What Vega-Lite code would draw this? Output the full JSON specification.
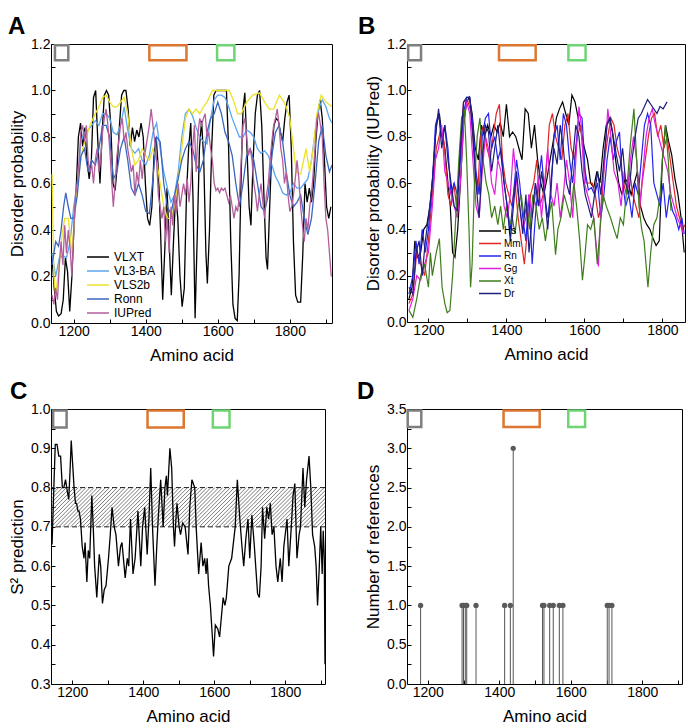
{
"$schema": "https://vega.github.io/schema/vega-lite/v6.json",
"padding": {"left": 7, "top": 14, "right": 2, "bottom": 2},
"config": {
  "font": "Liberation Sans",
  "view": {"stroke": "#000", "strokeWidth": 1},
  "axis": {"grid": false, "domain": false, "tickColor": "#000", "tickSize": -4, "labelPadding": 5, "labelOverlap": false, "labelFontSize": 14, "labelColor": "#000", "titleFontSize": 17, "titleFontWeight": "normal", "titleColor": "#000", "titlePadding": 4},
  "axisX": {"titlePadding": 9},
  "title": {"fontSize": 24, "fontWeight": "bold", "anchor": "start", "frame": "group", "baseline": "alphabetic", "offset": -2, "color": "#000"},
  "legend": {"title": null, "symbolStrokeWidth": 1.5, "padding": 0, "labelColor": "#000"}
},
"columns": 2,
"spacing": {"row": 86, "column": 75},
"bounds": "flush",
"resolve": {"scale": {"x": "independent", "y": "independent", "color": "independent", "stroke": "independent"}},
"datasets": {
"boxA": [{"b":"g","x0":1148,"x1":1185,"y0":1.13,"y1":1.195},{"b":"o","x0":1410,"x1":1513,"y0":1.13,"y1":1.195},{"b":"n","x0":1598,"x1":1646,"y0":1.13,"y1":1.195}],
"boxB": [{"b":"g","x0":1148,"x1":1181,"y0":1.13,"y1":1.195},{"b":"o","x0":1381,"x1":1475,"y0":1.13,"y1":1.195},{"b":"n","x0":1559,"x1":1603,"y0":1.13,"y1":1.195}],
"boxC": [{"b":"g","x0":1146,"x1":1184,"y0":0.953,"y1":0.996},{"b":"o","x0":1412,"x1":1514,"y0":0.953,"y1":0.996},{"b":"n","x0":1596,"x1":1643,"y0":0.953,"y1":0.996}],
"boxD": [{"b":"g","x0":1144,"x1":1182,"y0":3.27,"y1":3.48},{"b":"o","x0":1412,"x1":1513,"y0":3.27,"y1":3.48},{"b":"n","x0":1593,"x1":1640,"y0":3.27,"y1":3.48}],
"a": [
{"s":"VLXT","x":1140,"y":0.28},{"s":"VLXT","x":1146,"y":0.15},{"s":"VLXT","x":1152,"y":0.05},{"s":"VLXT","x":1158,"y":0.03},{"s":"VLXT","x":1165,"y":0.04},{"s":"VLXT","x":1171,"y":0.1},{"s":"VLXT","x":1177,"y":0.28},{"s":"VLXT","x":1183,"y":0.22},{"s":"VLXT","x":1189,"y":0.05},{"s":"VLXT","x":1195,"y":0.2},{"s":"VLXT","x":1201,"y":0.42},{"s":"VLXT","x":1207,"y":0.58},{"s":"VLXT","x":1213,"y":0.8},{"s":"VLXT","x":1219,"y":0.86},{"s":"VLXT","x":1225,"y":0.76},{"s":"VLXT","x":1231,"y":0.84},{"s":"VLXT","x":1237,"y":0.7},{"s":"VLXT","x":1243,"y":0.62},{"s":"VLXT","x":1249,"y":0.7},{"s":"VLXT","x":1255,"y":0.97},{"s":"VLXT","x":1261,"y":1.0},{"s":"VLXT","x":1267,"y":0.78},{"s":"VLXT","x":1273,"y":0.6},{"s":"VLXT","x":1279,"y":0.82},{"s":"VLXT","x":1285,"y":0.98},{"s":"VLXT","x":1291,"y":1.0},{"s":"VLXT","x":1297,"y":0.98},{"s":"VLXT","x":1303,"y":0.85},{"s":"VLXT","x":1309,"y":0.6},{"s":"VLXT","x":1315,"y":0.57},{"s":"VLXT","x":1321,"y":0.68},{"s":"VLXT","x":1327,"y":0.85},{"s":"VLXT","x":1333,"y":0.98},{"s":"VLXT","x":1339,"y":1.0},{"s":"VLXT","x":1345,"y":1.0},{"s":"VLXT","x":1351,"y":0.92},{"s":"VLXT","x":1357,"y":0.76},{"s":"VLXT","x":1363,"y":0.84},{"s":"VLXT","x":1369,"y":0.78},{"s":"VLXT","x":1375,"y":0.83},{"s":"VLXT","x":1381,"y":0.8},{"s":"VLXT","x":1387,"y":0.86},{"s":"VLXT","x":1393,"y":0.8},{"s":"VLXT","x":1399,"y":0.6},{"s":"VLXT","x":1405,"y":0.45},{"s":"VLXT","x":1411,"y":0.42},{"s":"VLXT","x":1417,"y":0.5},{"s":"VLXT","x":1423,"y":0.72},{"s":"VLXT","x":1429,"y":0.8},{"s":"VLXT","x":1435,"y":0.66},{"s":"VLXT","x":1441,"y":0.4},{"s":"VLXT","x":1447,"y":0.1},{"s":"VLXT","x":1453,"y":0.32},{"s":"VLXT","x":1459,"y":0.58},{"s":"VLXT","x":1465,"y":0.35},{"s":"VLXT","x":1471,"y":0.12},{"s":"VLXT","x":1477,"y":0.35},{"s":"VLXT","x":1483,"y":0.55},{"s":"VLXT","x":1489,"y":0.45},{"s":"VLXT","x":1495,"y":0.2},{"s":"VLXT","x":1501,"y":0.07},{"s":"VLXT","x":1507,"y":0.15},{"s":"VLXT","x":1513,"y":0.55},{"s":"VLXT","x":1519,"y":0.75},{"s":"VLXT","x":1525,"y":0.86},{"s":"VLXT","x":1531,"y":0.55},{"s":"VLXT","x":1537,"y":0.02},{"s":"VLXT","x":1543,"y":0.38},{"s":"VLXT","x":1549,"y":0.75},{"s":"VLXT","x":1555,"y":0.87},{"s":"VLXT","x":1561,"y":0.7},{"s":"VLXT","x":1567,"y":0.3},{"s":"VLXT","x":1571,"y":0.17},{"s":"VLXT","x":1577,"y":0.4},{"s":"VLXT","x":1583,"y":0.75},{"s":"VLXT","x":1589,"y":0.98},{"s":"VLXT","x":1595,"y":1.0},{"s":"VLXT","x":1605,"y":1.0},{"s":"VLXT","x":1615,"y":1.0},{"s":"VLXT","x":1624,"y":1.0},{"s":"VLXT","x":1630,"y":0.75},{"s":"VLXT","x":1636,"y":0.35},{"s":"VLXT","x":1642,"y":0.08},{"s":"VLXT","x":1648,"y":0.02},{"s":"VLXT","x":1654,"y":0.01},{"s":"VLXT","x":1659,"y":0.2},{"s":"VLXT","x":1665,"y":0.65},{"s":"VLXT","x":1670,"y":0.92},{"s":"VLXT","x":1675,"y":0.99},{"s":"VLXT","x":1681,"y":0.75},{"s":"VLXT","x":1687,"y":0.5},{"s":"VLXT","x":1692,"y":0.42},{"s":"VLXT","x":1698,"y":0.7},{"s":"VLXT","x":1704,"y":0.9},{"s":"VLXT","x":1710,"y":0.98},{"s":"VLXT","x":1716,"y":1.0},{"s":"VLXT","x":1722,"y":0.85},{"s":"VLXT","x":1728,"y":0.55},{"s":"VLXT","x":1734,"y":0.28},{"s":"VLXT","x":1738,"y":0.23},{"s":"VLXT","x":1744,"y":0.5},{"s":"VLXT","x":1750,"y":0.75},{"s":"VLXT","x":1756,"y":0.85},{"s":"VLXT","x":1762,"y":0.88},{"s":"VLXT","x":1768,"y":0.87},{"s":"VLXT","x":1774,"y":0.82},{"s":"VLXT","x":1780,"y":0.78},{"s":"VLXT","x":1786,"y":0.88},{"s":"VLXT","x":1792,"y":0.95},{"s":"VLXT","x":1798,"y":0.98},{"s":"VLXT","x":1804,"y":0.75},{"s":"VLXT","x":1810,"y":0.35},{"s":"VLXT","x":1816,"y":0.12},{"s":"VLXT","x":1822,"y":0.09},{"s":"VLXT","x":1830,"y":0.09},{"s":"VLXT","x":1836,"y":0.3},{"s":"VLXT","x":1842,"y":0.6},{"s":"VLXT","x":1848,"y":0.52},{"s":"VLXT","x":1854,"y":0.58},{"s":"VLXT","x":1860,"y":0.52},{"s":"VLXT","x":1866,"y":0.6},{"s":"VLXT","x":1872,"y":0.78},{"s":"VLXT","x":1878,"y":0.9},{"s":"VLXT","x":1884,"y":0.96},{"s":"VLXT","x":1890,"y":0.88},{"s":"VLXT","x":1896,"y":0.7},{"s":"VLXT","x":1902,"y":0.5},{"s":"VLXT","x":1908,"y":0.45},{"s":"VLXT","x":1914,"y":0.5},
{"s":"VL3-BA","x":1140,"y":0.3},{"s":"VL3-BA","x":1150,"y":0.2},{"s":"VL3-BA","x":1160,"y":0.28},{"s":"VL3-BA","x":1170,"y":0.29},{"s":"VL3-BA","x":1180,"y":0.28},{"s":"VL3-BA","x":1190,"y":0.35},{"s":"VL3-BA","x":1200,"y":0.5},{"s":"VL3-BA","x":1210,"y":0.6},{"s":"VL3-BA","x":1220,"y":0.78},{"s":"VL3-BA","x":1230,"y":0.82},{"s":"VL3-BA","x":1240,"y":0.83},{"s":"VL3-BA","x":1250,"y":0.85},{"s":"VL3-BA","x":1260,"y":0.87},{"s":"VL3-BA","x":1270,"y":0.85},{"s":"VL3-BA","x":1280,"y":0.9},{"s":"VL3-BA","x":1290,"y":0.9},{"s":"VL3-BA","x":1300,"y":0.88},{"s":"VL3-BA","x":1310,"y":0.82},{"s":"VL3-BA","x":1320,"y":0.81},{"s":"VL3-BA","x":1330,"y":0.85},{"s":"VL3-BA","x":1340,"y":0.93},{"s":"VL3-BA","x":1350,"y":0.83},{"s":"VL3-BA","x":1360,"y":0.75},{"s":"VL3-BA","x":1370,"y":0.73},{"s":"VL3-BA","x":1380,"y":0.75},{"s":"VL3-BA","x":1390,"y":0.7},{"s":"VL3-BA","x":1400,"y":0.68},{"s":"VL3-BA","x":1410,"y":0.72},{"s":"VL3-BA","x":1420,"y":0.82},{"s":"VL3-BA","x":1430,"y":0.86},{"s":"VL3-BA","x":1440,"y":0.75},{"s":"VL3-BA","x":1450,"y":0.65},{"s":"VL3-BA","x":1460,"y":0.58},{"s":"VL3-BA","x":1470,"y":0.52},{"s":"VL3-BA","x":1480,"y":0.55},{"s":"VL3-BA","x":1490,"y":0.65},{"s":"VL3-BA","x":1500,"y":0.8},{"s":"VL3-BA","x":1510,"y":0.9},{"s":"VL3-BA","x":1520,"y":0.92},{"s":"VL3-BA","x":1530,"y":0.89},{"s":"VL3-BA","x":1540,"y":0.84},{"s":"VL3-BA","x":1550,"y":0.8},{"s":"VL3-BA","x":1560,"y":0.78},{"s":"VL3-BA","x":1570,"y":0.77},{"s":"VL3-BA","x":1580,"y":0.88},{"s":"VL3-BA","x":1590,"y":0.96},{"s":"VL3-BA","x":1600,"y":0.98},{"s":"VL3-BA","x":1610,"y":0.98},{"s":"VL3-BA","x":1620,"y":0.97},{"s":"VL3-BA","x":1630,"y":0.93},{"s":"VL3-BA","x":1640,"y":0.88},{"s":"VL3-BA","x":1650,"y":0.84},{"s":"VL3-BA","x":1660,"y":0.8},{"s":"VL3-BA","x":1670,"y":0.8},{"s":"VL3-BA","x":1680,"y":0.83},{"s":"VL3-BA","x":1690,"y":0.82},{"s":"VL3-BA","x":1700,"y":0.8},{"s":"VL3-BA","x":1710,"y":0.75},{"s":"VL3-BA","x":1720,"y":0.73},{"s":"VL3-BA","x":1730,"y":0.74},{"s":"VL3-BA","x":1740,"y":0.72},{"s":"VL3-BA","x":1750,"y":0.68},{"s":"VL3-BA","x":1760,"y":0.63},{"s":"VL3-BA","x":1770,"y":0.6},{"s":"VL3-BA","x":1780,"y":0.56},{"s":"VL3-BA","x":1790,"y":0.55},{"s":"VL3-BA","x":1800,"y":0.56},{"s":"VL3-BA","x":1810,"y":0.6},{"s":"VL3-BA","x":1820,"y":0.58},{"s":"VL3-BA","x":1830,"y":0.58},{"s":"VL3-BA","x":1840,"y":0.6},{"s":"VL3-BA","x":1850,"y":0.62},{"s":"VL3-BA","x":1860,"y":0.7},{"s":"VL3-BA","x":1870,"y":0.82},{"s":"VL3-BA","x":1880,"y":0.92},{"s":"VL3-BA","x":1890,"y":0.96},{"s":"VL3-BA","x":1900,"y":0.93},{"s":"VL3-BA","x":1910,"y":0.88},{"s":"VL3-BA","x":1917,"y":0.86},
{"s":"VLS2b","x":1140,"y":0.64},{"s":"VLS2b","x":1145,"y":0.2},{"s":"VLS2b","x":1150,"y":0.12},{"s":"VLS2b","x":1160,"y":0.25},{"s":"VLS2b","x":1168,"y":0.38},{"s":"VLS2b","x":1175,"y":0.45},{"s":"VLS2b","x":1185,"y":0.45},{"s":"VLS2b","x":1195,"y":0.3},{"s":"VLS2b","x":1205,"y":0.5},{"s":"VLS2b","x":1212,"y":0.62},{"s":"VLS2b","x":1225,"y":0.75},{"s":"VLS2b","x":1235,"y":0.8},{"s":"VLS2b","x":1245,"y":0.85},{"s":"VLS2b","x":1260,"y":0.9},{"s":"VLS2b","x":1270,"y":0.93},{"s":"VLS2b","x":1280,"y":0.97},{"s":"VLS2b","x":1290,"y":0.98},{"s":"VLS2b","x":1300,"y":0.95},{"s":"VLS2b","x":1310,"y":0.93},{"s":"VLS2b","x":1320,"y":0.93},{"s":"VLS2b","x":1330,"y":0.95},{"s":"VLS2b","x":1340,"y":0.97},{"s":"VLS2b","x":1350,"y":0.9},{"s":"VLS2b","x":1360,"y":0.75},{"s":"VLS2b","x":1370,"y":0.68},{"s":"VLS2b","x":1380,"y":0.7},{"s":"VLS2b","x":1390,"y":0.75},{"s":"VLS2b","x":1400,"y":0.72},{"s":"VLS2b","x":1410,"y":0.7},{"s":"VLS2b","x":1420,"y":0.75},{"s":"VLS2b","x":1430,"y":0.7},{"s":"VLS2b","x":1440,"y":0.6},{"s":"VLS2b","x":1450,"y":0.5},{"s":"VLS2b","x":1460,"y":0.45},{"s":"VLS2b","x":1470,"y":0.45},{"s":"VLS2b","x":1480,"y":0.5},{"s":"VLS2b","x":1490,"y":0.62},{"s":"VLS2b","x":1500,"y":0.75},{"s":"VLS2b","x":1510,"y":0.88},{"s":"VLS2b","x":1520,"y":0.92},{"s":"VLS2b","x":1530,"y":0.9},{"s":"VLS2b","x":1540,"y":0.92},{"s":"VLS2b","x":1550,"y":0.9},{"s":"VLS2b","x":1560,"y":0.93},{"s":"VLS2b","x":1570,"y":0.95},{"s":"VLS2b","x":1585,"y":1.0},{"s":"VLS2b","x":1632,"y":1.0},{"s":"VLS2b","x":1645,"y":0.95},{"s":"VLS2b","x":1655,"y":0.9},{"s":"VLS2b","x":1665,"y":0.9},{"s":"VLS2b","x":1680,"y":0.95},{"s":"VLS2b","x":1697,"y":0.98},{"s":"VLS2b","x":1716,"y":0.99},{"s":"VLS2b","x":1730,"y":0.95},{"s":"VLS2b","x":1743,"y":0.92},{"s":"VLS2b","x":1755,"y":0.92},{"s":"VLS2b","x":1771,"y":0.98},{"s":"VLS2b","x":1780,"y":0.96},{"s":"VLS2b","x":1790,"y":0.93},{"s":"VLS2b","x":1800,"y":0.88},{"s":"VLS2b","x":1810,"y":0.75},{"s":"VLS2b","x":1818,"y":0.65},{"s":"VLS2b","x":1830,"y":0.64},{"s":"VLS2b","x":1845,"y":0.75},{"s":"VLS2b","x":1855,"y":0.65},{"s":"VLS2b","x":1865,"y":0.75},{"s":"VLS2b","x":1875,"y":0.9},{"s":"VLS2b","x":1887,"y":0.98},{"s":"VLS2b","x":1900,"y":0.95},{"s":"VLS2b","x":1917,"y":0.93},
{"s":"Ronn","x":1140,"y":0.25},{"s":"Ronn","x":1150,"y":0.35},{"s":"Ronn","x":1158,"y":0.33},{"s":"Ronn","x":1165,"y":0.4},{"s":"Ronn","x":1172,"y":0.5},{"s":"Ronn","x":1178,"y":0.56},{"s":"Ronn","x":1185,"y":0.5},{"s":"Ronn","x":1192,"y":0.45},{"s":"Ronn","x":1200,"y":0.45},{"s":"Ronn","x":1210,"y":0.55},{"s":"Ronn","x":1220,"y":0.72},{"s":"Ronn","x":1230,"y":0.75},{"s":"Ronn","x":1240,"y":0.65},{"s":"Ronn","x":1250,"y":0.7},{"s":"Ronn","x":1260,"y":0.68},{"s":"Ronn","x":1270,"y":0.75},{"s":"Ronn","x":1280,"y":0.85},{"s":"Ronn","x":1290,"y":0.85},{"s":"Ronn","x":1300,"y":0.8},{"s":"Ronn","x":1310,"y":0.62},{"s":"Ronn","x":1320,"y":0.65},{"s":"Ronn","x":1330,"y":0.75},{"s":"Ronn","x":1340,"y":0.8},{"s":"Ronn","x":1350,"y":0.7},{"s":"Ronn","x":1360,"y":0.58},{"s":"Ronn","x":1370,"y":0.55},{"s":"Ronn","x":1380,"y":0.6},{"s":"Ronn","x":1390,"y":0.55},{"s":"Ronn","x":1400,"y":0.48},{"s":"Ronn","x":1410,"y":0.47},{"s":"Ronn","x":1420,"y":0.62},{"s":"Ronn","x":1430,"y":0.8},{"s":"Ronn","x":1440,"y":0.78},{"s":"Ronn","x":1450,"y":0.6},{"s":"Ronn","x":1460,"y":0.5},{"s":"Ronn","x":1470,"y":0.47},{"s":"Ronn","x":1480,"y":0.55},{"s":"Ronn","x":1490,"y":0.62},{"s":"Ronn","x":1500,"y":0.7},{"s":"Ronn","x":1510,"y":0.75},{"s":"Ronn","x":1520,"y":0.78},{"s":"Ronn","x":1530,"y":0.75},{"s":"Ronn","x":1540,"y":0.68},{"s":"Ronn","x":1550,"y":0.65},{"s":"Ronn","x":1560,"y":0.7},{"s":"Ronn","x":1570,"y":0.82},{"s":"Ronn","x":1580,"y":0.88},{"s":"Ronn","x":1590,"y":0.9},{"s":"Ronn","x":1600,"y":0.95},{"s":"Ronn","x":1610,"y":0.9},{"s":"Ronn","x":1620,"y":0.82},{"s":"Ronn","x":1630,"y":0.78},{"s":"Ronn","x":1640,"y":0.72},{"s":"Ronn","x":1650,"y":0.6},{"s":"Ronn","x":1660,"y":0.5},{"s":"Ronn","x":1670,"y":0.6},{"s":"Ronn","x":1680,"y":0.72},{"s":"Ronn","x":1690,"y":0.75},{"s":"Ronn","x":1700,"y":0.7},{"s":"Ronn","x":1710,"y":0.6},{"s":"Ronn","x":1720,"y":0.5},{"s":"Ronn","x":1730,"y":0.48},{"s":"Ronn","x":1740,"y":0.55},{"s":"Ronn","x":1750,"y":0.72},{"s":"Ronn","x":1760,"y":0.82},{"s":"Ronn","x":1770,"y":0.85},{"s":"Ronn","x":1780,"y":0.78},{"s":"Ronn","x":1790,"y":0.65},{"s":"Ronn","x":1800,"y":0.55},{"s":"Ronn","x":1810,"y":0.5},{"s":"Ronn","x":1820,"y":0.52},{"s":"Ronn","x":1830,"y":0.55},{"s":"Ronn","x":1840,"y":0.45},{"s":"Ronn","x":1850,"y":0.38},{"s":"Ronn","x":1860,"y":0.45},{"s":"Ronn","x":1870,"y":0.6},{"s":"Ronn","x":1880,"y":0.78},{"s":"Ronn","x":1890,"y":0.85},{"s":"Ronn","x":1900,"y":0.72},{"s":"Ronn","x":1910,"y":0.65},{"s":"Ronn","x":1917,"y":0.68},
{"s":"IUPred","x":1140,"y":0.12},{"s":"IUPred","x":1145,"y":0.08},{"s":"IUPred","x":1150,"y":0.15},{"s":"IUPred","x":1155,"y":0.1},{"s":"IUPred","x":1160,"y":0.25},{"s":"IUPred","x":1165,"y":0.35},{"s":"IUPred","x":1170,"y":0.25},{"s":"IUPred","x":1175,"y":0.42},{"s":"IUPred","x":1180,"y":0.3},{"s":"IUPred","x":1185,"y":0.4},{"s":"IUPred","x":1190,"y":0.32},{"s":"IUPred","x":1195,"y":0.2},{"s":"IUPred","x":1200,"y":0.4},{"s":"IUPred","x":1205,"y":0.55},{"s":"IUPred","x":1210,"y":0.6},{"s":"IUPred","x":1215,"y":0.7},{"s":"IUPred","x":1220,"y":0.82},{"s":"IUPred","x":1225,"y":0.85},{"s":"IUPred","x":1230,"y":0.78},{"s":"IUPred","x":1235,"y":0.85},{"s":"IUPred","x":1240,"y":0.7},{"s":"IUPred","x":1245,"y":0.65},{"s":"IUPred","x":1250,"y":0.68},{"s":"IUPred","x":1255,"y":0.6},{"s":"IUPred","x":1260,"y":0.7},{"s":"IUPred","x":1265,"y":0.75},{"s":"IUPred","x":1270,"y":0.65},{"s":"IUPred","x":1275,"y":0.7},{"s":"IUPred","x":1280,"y":0.82},{"s":"IUPred","x":1285,"y":0.88},{"s":"IUPred","x":1290,"y":0.92},{"s":"IUPred","x":1295,"y":0.85},{"s":"IUPred","x":1300,"y":0.75},{"s":"IUPred","x":1305,"y":0.62},{"s":"IUPred","x":1310,"y":0.5},{"s":"IUPred","x":1315,"y":0.6},{"s":"IUPred","x":1320,"y":0.72},{"s":"IUPred","x":1325,"y":0.78},{"s":"IUPred","x":1330,"y":0.85},{"s":"IUPred","x":1335,"y":0.88},{"s":"IUPred","x":1340,"y":0.78},{"s":"IUPred","x":1345,"y":0.82},{"s":"IUPred","x":1350,"y":0.75},{"s":"IUPred","x":1355,"y":0.7},{"s":"IUPred","x":1360,"y":0.65},{"s":"IUPred","x":1365,"y":0.68},{"s":"IUPred","x":1370,"y":0.55},{"s":"IUPred","x":1375,"y":0.65},{"s":"IUPred","x":1380,"y":0.6},{"s":"IUPred","x":1385,"y":0.7},{"s":"IUPred","x":1390,"y":0.62},{"s":"IUPred","x":1395,"y":0.7},{"s":"IUPred","x":1400,"y":0.75},{"s":"IUPred","x":1405,"y":0.8},{"s":"IUPred","x":1410,"y":0.85},{"s":"IUPred","x":1415,"y":0.92},{"s":"IUPred","x":1420,"y":0.85},{"s":"IUPred","x":1425,"y":0.78},{"s":"IUPred","x":1430,"y":0.7},{"s":"IUPred","x":1435,"y":0.55},{"s":"IUPred","x":1440,"y":0.5},{"s":"IUPred","x":1445,"y":0.45},{"s":"IUPred","x":1450,"y":0.5},{"s":"IUPred","x":1455,"y":0.35},{"s":"IUPred","x":1460,"y":0.45},{"s":"IUPred","x":1465,"y":0.3},{"s":"IUPred","x":1470,"y":0.5},{"s":"IUPred","x":1475,"y":0.42},{"s":"IUPred","x":1480,"y":0.55},{"s":"IUPred","x":1485,"y":0.48},{"s":"IUPred","x":1490,"y":0.6},{"s":"IUPred","x":1495,"y":0.5},{"s":"IUPred","x":1500,"y":0.55},{"s":"IUPred","x":1505,"y":0.6},{"s":"IUPred","x":1510,"y":0.55},{"s":"IUPred","x":1515,"y":0.62},{"s":"IUPred","x":1520,"y":0.52},{"s":"IUPred","x":1525,"y":0.6},{"s":"IUPred","x":1530,"y":0.75},{"s":"IUPred","x":1535,"y":0.85},{"s":"IUPred","x":1540,"y":0.65},{"s":"IUPred","x":1545,"y":0.82},{"s":"IUPred","x":1550,"y":0.88},{"s":"IUPred","x":1555,"y":0.85},{"s":"IUPred","x":1560,"y":0.88},{"s":"IUPred","x":1565,"y":0.9},{"s":"IUPred","x":1570,"y":0.8},{"s":"IUPred","x":1575,"y":0.82},{"s":"IUPred","x":1580,"y":0.75},{"s":"IUPred","x":1585,"y":0.7},{"s":"IUPred","x":1590,"y":0.6},{"s":"IUPred","x":1595,"y":0.57},{"s":"IUPred","x":1600,"y":0.58},{"s":"IUPred","x":1605,"y":0.56},{"s":"IUPred","x":1610,"y":0.58},{"s":"IUPred","x":1615,"y":0.57},{"s":"IUPred","x":1620,"y":0.58},{"s":"IUPred","x":1625,"y":0.55},{"s":"IUPred","x":1630,"y":0.52},{"s":"IUPred","x":1635,"y":0.55},{"s":"IUPred","x":1640,"y":0.5},{"s":"IUPred","x":1645,"y":0.45},{"s":"IUPred","x":1650,"y":0.5},{"s":"IUPred","x":1655,"y":0.48},{"s":"IUPred","x":1660,"y":0.55},{"s":"IUPred","x":1665,"y":0.7},{"s":"IUPred","x":1670,"y":0.85},{"s":"IUPred","x":1675,"y":0.88},{"s":"IUPred","x":1680,"y":0.8},{"s":"IUPred","x":1685,"y":0.72},{"s":"IUPred","x":1690,"y":0.75},{"s":"IUPred","x":1695,"y":0.7},{"s":"IUPred","x":1700,"y":0.6},{"s":"IUPred","x":1705,"y":0.55},{"s":"IUPred","x":1710,"y":0.48},{"s":"IUPred","x":1715,"y":0.55},{"s":"IUPred","x":1720,"y":0.6},{"s":"IUPred","x":1725,"y":0.52},{"s":"IUPred","x":1730,"y":0.45},{"s":"IUPred","x":1735,"y":0.55},{"s":"IUPred","x":1740,"y":0.6},{"s":"IUPred","x":1745,"y":0.7},{"s":"IUPred","x":1750,"y":0.78},{"s":"IUPred","x":1755,"y":0.85},{"s":"IUPred","x":1760,"y":0.88},{"s":"IUPred","x":1765,"y":0.92},{"s":"IUPred","x":1770,"y":0.85},{"s":"IUPred","x":1775,"y":0.75},{"s":"IUPred","x":1780,"y":0.7},{"s":"IUPred","x":1785,"y":0.6},{"s":"IUPred","x":1790,"y":0.65},{"s":"IUPred","x":1795,"y":0.55},{"s":"IUPred","x":1800,"y":0.48},{"s":"IUPred","x":1805,"y":0.5},{"s":"IUPred","x":1810,"y":0.55},{"s":"IUPred","x":1815,"y":0.62},{"s":"IUPred","x":1820,"y":0.7},{"s":"IUPred","x":1825,"y":0.62},{"s":"IUPred","x":1830,"y":0.5},{"s":"IUPred","x":1835,"y":0.42},{"s":"IUPred","x":1840,"y":0.35},{"s":"IUPred","x":1845,"y":0.45},{"s":"IUPred","x":1850,"y":0.4},{"s":"IUPred","x":1855,"y":0.5},{"s":"IUPred","x":1860,"y":0.55},{"s":"IUPred","x":1865,"y":0.65},{"s":"IUPred","x":1870,"y":0.75},{"s":"IUPred","x":1875,"y":0.88},{"s":"IUPred","x":1880,"y":0.9},{"s":"IUPred","x":1885,"y":0.85},{"s":"IUPred","x":1890,"y":0.8},{"s":"IUPred","x":1895,"y":0.6},{"s":"IUPred","x":1900,"y":0.45},{"s":"IUPred","x":1905,"y":0.4},{"s":"IUPred","x":1910,"y":0.3},{"s":"IUPred","x":1915,"y":0.2}
],
"b": [
{"s":"Hs","x":1150,"y":0.1},{"s":"Hs","x":1158,"y":0.15},{"s":"Hs","x":1165,"y":0.35},{"s":"Hs","x":1172,"y":0.28},{"s":"Hs","x":1180,"y":0.3},{"s":"Hs","x":1188,"y":0.4},{"s":"Hs","x":1196,"y":0.42},{"s":"Hs","x":1204,"y":0.5},{"s":"Hs","x":1212,"y":0.65},{"s":"Hs","x":1220,"y":0.85},{"s":"Hs","x":1228,"y":0.9},{"s":"Hs","x":1235,"y":0.8},{"s":"Hs","x":1242,"y":0.75},{"s":"Hs","x":1250,"y":0.6},{"s":"Hs","x":1256,"y":0.5},{"s":"Hs","x":1262,"y":0.3},{"s":"Hs","x":1268,"y":0.28},{"s":"Hs","x":1275,"y":0.4},{"s":"Hs","x":1282,"y":0.6},{"s":"Hs","x":1290,"y":0.85},{"s":"Hs","x":1298,"y":0.95},{"s":"Hs","x":1305,"y":0.97},{"s":"Hs","x":1312,"y":0.9},{"s":"Hs","x":1320,"y":0.75},{"s":"Hs","x":1328,"y":0.7},{"s":"Hs","x":1336,"y":0.85},{"s":"Hs","x":1344,"y":0.8},{"s":"Hs","x":1352,"y":0.85},{"s":"Hs","x":1360,"y":0.8},{"s":"Hs","x":1368,"y":0.85},{"s":"Hs","x":1376,"y":0.82},{"s":"Hs","x":1384,"y":0.86},{"s":"Hs","x":1392,"y":0.8},{"s":"Hs","x":1400,"y":0.94},{"s":"Hs","x":1408,"y":0.8},{"s":"Hs","x":1416,"y":0.82},{"s":"Hs","x":1424,"y":0.8},{"s":"Hs","x":1432,"y":0.75},{"s":"Hs","x":1440,"y":0.7},{"s":"Hs","x":1448,"y":0.92},{"s":"Hs","x":1456,"y":0.9},{"s":"Hs","x":1464,"y":0.75},{"s":"Hs","x":1472,"y":0.85},{"s":"Hs","x":1480,"y":0.7},{"s":"Hs","x":1488,"y":0.6},{"s":"Hs","x":1496,"y":0.55},{"s":"Hs","x":1504,"y":0.62},{"s":"Hs","x":1512,"y":0.7},{"s":"Hs","x":1520,"y":0.78},{"s":"Hs","x":1528,"y":0.88},{"s":"Hs","x":1536,"y":0.92},{"s":"Hs","x":1544,"y":0.95},{"s":"Hs","x":1552,"y":0.9},{"s":"Hs","x":1560,"y":0.85},{"s":"Hs","x":1568,"y":0.98},{"s":"Hs","x":1576,"y":0.95},{"s":"Hs","x":1584,"y":0.88},{"s":"Hs","x":1592,"y":0.82},{"s":"Hs","x":1600,"y":0.75},{"s":"Hs","x":1608,"y":0.7},{"s":"Hs","x":1616,"y":0.6},{"s":"Hs","x":1624,"y":0.58},{"s":"Hs","x":1632,"y":0.65},{"s":"Hs","x":1640,"y":0.6},{"s":"Hs","x":1648,"y":0.75},{"s":"Hs","x":1656,"y":0.85},{"s":"Hs","x":1664,"y":0.88},{"s":"Hs","x":1672,"y":0.82},{"s":"Hs","x":1680,"y":0.7},{"s":"Hs","x":1688,"y":0.6},{"s":"Hs","x":1696,"y":0.55},{"s":"Hs","x":1704,"y":0.62},{"s":"Hs","x":1712,"y":0.6},{"s":"Hs","x":1720,"y":0.55},{"s":"Hs","x":1728,"y":0.6},{"s":"Hs","x":1736,"y":0.65},{"s":"Hs","x":1744,"y":0.5},{"s":"Hs","x":1752,"y":0.45},{"s":"Hs","x":1760,"y":0.42},{"s":"Hs","x":1768,"y":0.4},{"s":"Hs","x":1776,"y":0.36},{"s":"Hs","x":1784,"y":0.33},{"s":"Hs","x":1792,"y":0.35},{"s":"Hs","x":1800,"y":0.7},{"s":"Hs","x":1808,"y":0.85},{"s":"Hs","x":1816,"y":0.78},{"s":"Hs","x":1824,"y":0.72},{"s":"Hs","x":1832,"y":0.62},{"s":"Hs","x":1840,"y":0.55},{"s":"Hs","x":1848,"y":0.45},{"s":"Hs","x":1856,"y":0.3},
{"s":"Mm","x":1150,"y":0.08},{"s":"Mm","x":1160,"y":0.12},{"s":"Mm","x":1170,"y":0.3},{"s":"Mm","x":1180,"y":0.25},{"s":"Mm","x":1190,"y":0.2},{"s":"Mm","x":1200,"y":0.35},{"s":"Mm","x":1210,"y":0.55},{"s":"Mm","x":1220,"y":0.75},{"s":"Mm","x":1230,"y":0.82},{"s":"Mm","x":1240,"y":0.78},{"s":"Mm","x":1250,"y":0.55},{"s":"Mm","x":1258,"y":0.5},{"s":"Mm","x":1265,"y":0.6},{"s":"Mm","x":1272,"y":0.5},{"s":"Mm","x":1280,"y":0.7},{"s":"Mm","x":1290,"y":0.95},{"s":"Mm","x":1300,"y":0.96},{"s":"Mm","x":1310,"y":0.9},{"s":"Mm","x":1318,"y":0.7},{"s":"Mm","x":1326,"y":0.55},{"s":"Mm","x":1334,"y":0.8},{"s":"Mm","x":1342,"y":0.85},{"s":"Mm","x":1350,"y":0.75},{"s":"Mm","x":1358,"y":0.7},{"s":"Mm","x":1366,"y":0.8},{"s":"Mm","x":1374,"y":0.9},{"s":"Mm","x":1382,"y":0.94},{"s":"Mm","x":1390,"y":0.7},{"s":"Mm","x":1398,"y":0.6},{"s":"Mm","x":1406,"y":0.55},{"s":"Mm","x":1414,"y":0.5},{"s":"Mm","x":1422,"y":0.6},{"s":"Mm","x":1430,"y":0.45},{"s":"Mm","x":1438,"y":0.35},{"s":"Mm","x":1446,"y":0.25},{"s":"Mm","x":1454,"y":0.4},{"s":"Mm","x":1462,"y":0.55},{"s":"Mm","x":1470,"y":0.6},{"s":"Mm","x":1478,"y":0.7},{"s":"Mm","x":1486,"y":0.5},{"s":"Mm","x":1494,"y":0.55},{"s":"Mm","x":1502,"y":0.65},{"s":"Mm","x":1510,"y":0.85},{"s":"Mm","x":1518,"y":0.9},{"s":"Mm","x":1526,"y":0.8},{"s":"Mm","x":1534,"y":0.75},{"s":"Mm","x":1542,"y":0.7},{"s":"Mm","x":1550,"y":0.85},{"s":"Mm","x":1558,"y":0.9},{"s":"Mm","x":1566,"y":0.75},{"s":"Mm","x":1574,"y":0.7},{"s":"Mm","x":1582,"y":0.8},{"s":"Mm","x":1590,"y":0.85},{"s":"Mm","x":1598,"y":0.7},{"s":"Mm","x":1604,"y":0.6},{"s":"Mm","x":1612,"y":0.6},{"s":"Mm","x":1620,"y":0.6},{"s":"Mm","x":1628,"y":0.55},{"s":"Mm","x":1636,"y":0.45},{"s":"Mm","x":1644,"y":0.5},{"s":"Mm","x":1652,"y":0.7},{"s":"Mm","x":1660,"y":0.8},{"s":"Mm","x":1668,"y":0.88},{"s":"Mm","x":1676,"y":0.85},{"s":"Mm","x":1684,"y":0.75},{"s":"Mm","x":1692,"y":0.7},{"s":"Mm","x":1700,"y":0.6},{"s":"Mm","x":1708,"y":0.55},{"s":"Mm","x":1716,"y":0.65},{"s":"Mm","x":1724,"y":0.55},{"s":"Mm","x":1732,"y":0.5},{"s":"Mm","x":1740,"y":0.45},{"s":"Mm","x":1748,"y":0.6},{"s":"Mm","x":1756,"y":0.7},{"s":"Mm","x":1764,"y":0.8},{"s":"Mm","x":1772,"y":0.88},{"s":"Mm","x":1780,"y":0.9},{"s":"Mm","x":1788,"y":0.8},{"s":"Mm","x":1796,"y":0.85},{"s":"Mm","x":1804,"y":0.75},{"s":"Mm","x":1812,"y":0.8},{"s":"Mm","x":1820,"y":0.7},{"s":"Mm","x":1828,"y":0.6},{"s":"Mm","x":1836,"y":0.5},{"s":"Mm","x":1844,"y":0.45},{"s":"Mm","x":1852,"y":0.4},{"s":"Mm","x":1858,"y":0.42},
{"s":"Rn","x":1150,"y":0.12},{"s":"Rn","x":1160,"y":0.2},{"s":"Rn","x":1168,"y":0.35},{"s":"Rn","x":1176,"y":0.25},{"s":"Rn","x":1184,"y":0.4},{"s":"Rn","x":1192,"y":0.3},{"s":"Rn","x":1200,"y":0.4},{"s":"Rn","x":1210,"y":0.6},{"s":"Rn","x":1218,"y":0.85},{"s":"Rn","x":1226,"y":0.9},{"s":"Rn","x":1234,"y":0.8},{"s":"Rn","x":1242,"y":0.85},{"s":"Rn","x":1250,"y":0.75},{"s":"Rn","x":1258,"y":0.55},{"s":"Rn","x":1266,"y":0.6},{"s":"Rn","x":1274,"y":0.55},{"s":"Rn","x":1282,"y":0.7},{"s":"Rn","x":1290,"y":0.9},{"s":"Rn","x":1298,"y":0.97},{"s":"Rn","x":1306,"y":0.97},{"s":"Rn","x":1314,"y":0.85},{"s":"Rn","x":1322,"y":0.65},{"s":"Rn","x":1330,"y":0.55},{"s":"Rn","x":1338,"y":0.8},{"s":"Rn","x":1346,"y":0.88},{"s":"Rn","x":1354,"y":0.9},{"s":"Rn","x":1362,"y":0.75},{"s":"Rn","x":1370,"y":0.8},{"s":"Rn","x":1378,"y":0.7},{"s":"Rn","x":1386,"y":0.75},{"s":"Rn","x":1394,"y":0.6},{"s":"Rn","x":1402,"y":0.5},{"s":"Rn","x":1410,"y":0.4},{"s":"Rn","x":1418,"y":0.55},{"s":"Rn","x":1426,"y":0.7},{"s":"Rn","x":1434,"y":0.6},{"s":"Rn","x":1442,"y":0.45},{"s":"Rn","x":1450,"y":0.35},{"s":"Rn","x":1458,"y":0.55},{"s":"Rn","x":1466,"y":0.25},{"s":"Rn","x":1474,"y":0.45},{"s":"Rn","x":1482,"y":0.6},{"s":"Rn","x":1490,"y":0.72},{"s":"Rn","x":1498,"y":0.55},{"s":"Rn","x":1506,"y":0.45},{"s":"Rn","x":1514,"y":0.55},{"s":"Rn","x":1522,"y":0.8},{"s":"Rn","x":1530,"y":0.85},{"s":"Rn","x":1538,"y":0.7},{"s":"Rn","x":1546,"y":0.9},{"s":"Rn","x":1554,"y":0.85},{"s":"Rn","x":1562,"y":0.7},{"s":"Rn","x":1570,"y":0.6},{"s":"Rn","x":1578,"y":0.75},{"s":"Rn","x":1586,"y":0.9},{"s":"Rn","x":1594,"y":0.88},{"s":"Rn","x":1602,"y":0.65},{"s":"Rn","x":1610,"y":0.57},{"s":"Rn","x":1618,"y":0.58},{"s":"Rn","x":1626,"y":0.55},{"s":"Rn","x":1634,"y":0.6},{"s":"Rn","x":1642,"y":0.45},{"s":"Rn","x":1650,"y":0.55},{"s":"Rn","x":1658,"y":0.7},{"s":"Rn","x":1666,"y":0.8},{"s":"Rn","x":1674,"y":0.7},{"s":"Rn","x":1682,"y":0.78},{"s":"Rn","x":1690,"y":0.82},{"s":"Rn","x":1698,"y":0.6},{"s":"Rn","x":1706,"y":0.5},{"s":"Rn","x":1714,"y":0.55},{"s":"Rn","x":1722,"y":0.45},{"s":"Rn","x":1730,"y":0.6},{"s":"Rn","x":1738,"y":0.55},{"s":"Rn","x":1746,"y":0.7},{"s":"Rn","x":1754,"y":0.85},{"s":"Rn","x":1762,"y":0.9},{"s":"Rn","x":1770,"y":0.85},{"s":"Rn","x":1778,"y":0.6},{"s":"Rn","x":1786,"y":0.55},{"s":"Rn","x":1794,"y":0.5},{"s":"Rn","x":1802,"y":0.6},{"s":"Rn","x":1810,"y":0.45},{"s":"Rn","x":1818,"y":0.55},{"s":"Rn","x":1826,"y":0.48},{"s":"Rn","x":1834,"y":0.45},{"s":"Rn","x":1842,"y":0.4},{"s":"Rn","x":1850,"y":0.45},{"s":"Rn","x":1856,"y":0.38},
{"s":"Gg","x":1150,"y":0.05},{"s":"Gg","x":1160,"y":0.1},{"s":"Gg","x":1170,"y":0.2},{"s":"Gg","x":1180,"y":0.18},{"s":"Gg","x":1190,"y":0.25},{"s":"Gg","x":1200,"y":0.3},{"s":"Gg","x":1210,"y":0.5},{"s":"Gg","x":1218,"y":0.7},{"s":"Gg","x":1226,"y":0.75},{"s":"Gg","x":1234,"y":0.85},{"s":"Gg","x":1242,"y":0.65},{"s":"Gg","x":1250,"y":0.6},{"s":"Gg","x":1258,"y":0.55},{"s":"Gg","x":1266,"y":0.5},{"s":"Gg","x":1274,"y":0.45},{"s":"Gg","x":1282,"y":0.6},{"s":"Gg","x":1290,"y":0.85},{"s":"Gg","x":1298,"y":0.95},{"s":"Gg","x":1306,"y":0.9},{"s":"Gg","x":1314,"y":0.7},{"s":"Gg","x":1322,"y":0.5},{"s":"Gg","x":1330,"y":0.45},{"s":"Gg","x":1338,"y":0.65},{"s":"Gg","x":1346,"y":0.8},{"s":"Gg","x":1354,"y":0.75},{"s":"Gg","x":1362,"y":0.6},{"s":"Gg","x":1370,"y":0.55},{"s":"Gg","x":1378,"y":0.7},{"s":"Gg","x":1386,"y":0.65},{"s":"Gg","x":1394,"y":0.5},{"s":"Gg","x":1402,"y":0.45},{"s":"Gg","x":1410,"y":0.55},{"s":"Gg","x":1418,"y":0.75},{"s":"Gg","x":1426,"y":0.6},{"s":"Gg","x":1434,"y":0.5},{"s":"Gg","x":1442,"y":0.4},{"s":"Gg","x":1450,"y":0.45},{"s":"Gg","x":1458,"y":0.55},{"s":"Gg","x":1466,"y":0.45},{"s":"Gg","x":1474,"y":0.55},{"s":"Gg","x":1482,"y":0.62},{"s":"Gg","x":1490,"y":0.45},{"s":"Gg","x":1498,"y":0.6},{"s":"Gg","x":1506,"y":0.75},{"s":"Gg","x":1514,"y":0.55},{"s":"Gg","x":1522,"y":0.5},{"s":"Gg","x":1530,"y":0.6},{"s":"Gg","x":1538,"y":0.45},{"s":"Gg","x":1546,"y":0.55},{"s":"Gg","x":1554,"y":0.7},{"s":"Gg","x":1562,"y":0.6},{"s":"Gg","x":1570,"y":0.45},{"s":"Gg","x":1578,"y":0.7},{"s":"Gg","x":1586,"y":0.93},{"s":"Gg","x":1592,"y":0.85},{"s":"Gg","x":1600,"y":0.6},{"s":"Gg","x":1608,"y":0.55},{"s":"Gg","x":1616,"y":0.5},{"s":"Gg","x":1624,"y":0.45},{"s":"Gg","x":1632,"y":0.3},{"s":"Gg","x":1636,"y":0.24},{"s":"Gg","x":1644,"y":0.55},{"s":"Gg","x":1652,"y":0.7},{"s":"Gg","x":1660,"y":0.92},{"s":"Gg","x":1668,"y":0.8},{"s":"Gg","x":1676,"y":0.65},{"s":"Gg","x":1686,"y":0.6},{"s":"Gg","x":1694,"y":0.5},{"s":"Gg","x":1702,"y":0.65},{"s":"Gg","x":1710,"y":0.55},{"s":"Gg","x":1718,"y":0.7},{"s":"Gg","x":1726,"y":0.8},{"s":"Gg","x":1734,"y":0.7},{"s":"Gg","x":1742,"y":0.5},{"s":"Gg","x":1750,"y":0.65},{"s":"Gg","x":1758,"y":0.8},{"s":"Gg","x":1766,"y":0.88},{"s":"Gg","x":1774,"y":0.92},{"s":"Gg","x":1782,"y":0.85},{"s":"Gg","x":1790,"y":0.8},{"s":"Gg","x":1798,"y":0.75},{"s":"Gg","x":1806,"y":0.7},{"s":"Gg","x":1814,"y":0.65},{"s":"Gg","x":1822,"y":0.55},{"s":"Gg","x":1830,"y":0.5},{"s":"Gg","x":1838,"y":0.45},{"s":"Gg","x":1846,"y":0.42},{"s":"Gg","x":1854,"y":0.38},
{"s":"Xt","x":1150,"y":0.05},{"s":"Xt","x":1160,"y":0.02},{"s":"Xt","x":1170,"y":0.1},{"s":"Xt","x":1180,"y":0.2},{"s":"Xt","x":1190,"y":0.25},{"s":"Xt","x":1200,"y":0.15},{"s":"Xt","x":1205,"y":0.3},{"s":"Xt","x":1210,"y":0.2},{"s":"Xt","x":1220,"y":0.3},{"s":"Xt","x":1228,"y":0.36},{"s":"Xt","x":1235,"y":0.15},{"s":"Xt","x":1242,"y":0.08},{"s":"Xt","x":1248,"y":0.04},{"s":"Xt","x":1255,"y":0.05},{"s":"Xt","x":1262,"y":0.2},{"s":"Xt","x":1270,"y":0.45},{"s":"Xt","x":1278,"y":0.7},{"s":"Xt","x":1285,"y":0.88},{"s":"Xt","x":1292,"y":0.92},{"s":"Xt","x":1298,"y":0.7},{"s":"Xt","x":1304,"y":0.4},{"s":"Xt","x":1308,"y":0.15},{"s":"Xt","x":1312,"y":0.25},{"s":"Xt","x":1318,"y":0.6},{"s":"Xt","x":1325,"y":0.8},{"s":"Xt","x":1332,"y":0.88},{"s":"Xt","x":1340,"y":0.7},{"s":"Xt","x":1348,"y":0.6},{"s":"Xt","x":1355,"y":0.55},{"s":"Xt","x":1362,"y":0.45},{"s":"Xt","x":1370,"y":0.5},{"s":"Xt","x":1378,"y":0.42},{"s":"Xt","x":1385,"y":0.5},{"s":"Xt","x":1392,"y":0.4},{"s":"Xt","x":1400,"y":0.5},{"s":"Xt","x":1408,"y":0.42},{"s":"Xt","x":1415,"y":0.45},{"s":"Xt","x":1422,"y":0.38},{"s":"Xt","x":1430,"y":0.5},{"s":"Xt","x":1438,"y":0.55},{"s":"Xt","x":1445,"y":0.45},{"s":"Xt","x":1452,"y":0.5},{"s":"Xt","x":1460,"y":0.4},{"s":"Xt","x":1468,"y":0.55},{"s":"Xt","x":1476,"y":0.5},{"s":"Xt","x":1484,"y":0.4},{"s":"Xt","x":1492,"y":0.45},{"s":"Xt","x":1500,"y":0.35},{"s":"Xt","x":1508,"y":0.45},{"s":"Xt","x":1516,"y":0.52},{"s":"Xt","x":1526,"y":0.29},{"s":"Xt","x":1532,"y":0.4},{"s":"Xt","x":1540,"y":0.45},{"s":"Xt","x":1548,"y":0.55},{"s":"Xt","x":1556,"y":0.5},{"s":"Xt","x":1564,"y":0.45},{"s":"Xt","x":1573,"y":0.6},{"s":"Xt","x":1580,"y":0.5},{"s":"Xt","x":1588,"y":0.35},{"s":"Xt","x":1595,"y":0.18},{"s":"Xt","x":1602,"y":0.3},{"s":"Xt","x":1608,"y":0.42},{"s":"Xt","x":1616,"y":0.4},{"s":"Xt","x":1624,"y":0.45},{"s":"Xt","x":1633,"y":0.25},{"s":"Xt","x":1640,"y":0.4},{"s":"Xt","x":1648,"y":0.55},{"s":"Xt","x":1656,"y":0.5},{"s":"Xt","x":1667,"y":0.45},{"s":"Xt","x":1676,"y":0.4},{"s":"Xt","x":1684,"y":0.36},{"s":"Xt","x":1692,"y":0.45},{"s":"Xt","x":1700,"y":0.42},{"s":"Xt","x":1710,"y":0.6},{"s":"Xt","x":1718,"y":0.77},{"s":"Xt","x":1727,"y":0.92},{"s":"Xt","x":1734,"y":0.7},{"s":"Xt","x":1740,"y":0.5},{"s":"Xt","x":1747,"y":0.4},{"s":"Xt","x":1753,"y":0.35},{"s":"Xt","x":1758,"y":0.25},{"s":"Xt","x":1763,"y":0.15},{"s":"Xt","x":1770,"y":0.3},{"s":"Xt","x":1778,"y":0.42},{"s":"Xt","x":1786,"y":0.45},{"s":"Xt","x":1794,"y":0.55},{"s":"Xt","x":1800,"y":0.7},{"s":"Xt","x":1808,"y":0.85},{"s":"Xt","x":1815,"y":0.7},{"s":"Xt","x":1822,"y":0.48},
{"s":"Dr","x":1150,"y":0.15},{"s":"Dr","x":1160,"y":0.12},{"s":"Dr","x":1168,"y":0.3},{"s":"Dr","x":1176,"y":0.35},{"s":"Dr","x":1184,"y":0.2},{"s":"Dr","x":1192,"y":0.35},{"s":"Dr","x":1200,"y":0.45},{"s":"Dr","x":1210,"y":0.6},{"s":"Dr","x":1218,"y":0.8},{"s":"Dr","x":1226,"y":0.92},{"s":"Dr","x":1234,"y":0.75},{"s":"Dr","x":1242,"y":0.85},{"s":"Dr","x":1250,"y":0.7},{"s":"Dr","x":1258,"y":0.6},{"s":"Dr","x":1266,"y":0.5},{"s":"Dr","x":1274,"y":0.48},{"s":"Dr","x":1282,"y":0.75},{"s":"Dr","x":1290,"y":0.95},{"s":"Dr","x":1298,"y":0.97},{"s":"Dr","x":1306,"y":0.97},{"s":"Dr","x":1314,"y":0.8},{"s":"Dr","x":1322,"y":0.6},{"s":"Dr","x":1330,"y":0.45},{"s":"Dr","x":1338,"y":0.7},{"s":"Dr","x":1346,"y":0.85},{"s":"Dr","x":1354,"y":0.82},{"s":"Dr","x":1362,"y":0.65},{"s":"Dr","x":1370,"y":0.75},{"s":"Dr","x":1378,"y":0.85},{"s":"Dr","x":1386,"y":0.72},{"s":"Dr","x":1394,"y":0.6},{"s":"Dr","x":1402,"y":0.5},{"s":"Dr","x":1410,"y":0.35},{"s":"Dr","x":1418,"y":0.5},{"s":"Dr","x":1426,"y":0.65},{"s":"Dr","x":1434,"y":0.5},{"s":"Dr","x":1442,"y":0.38},{"s":"Dr","x":1450,"y":0.55},{"s":"Dr","x":1458,"y":0.3},{"s":"Dr","x":1466,"y":0.45},{"s":"Dr","x":1474,"y":0.6},{"s":"Dr","x":1482,"y":0.5},{"s":"Dr","x":1490,"y":0.65},{"s":"Dr","x":1498,"y":0.55},{"s":"Dr","x":1506,"y":0.4},{"s":"Dr","x":1514,"y":0.6},{"s":"Dr","x":1522,"y":0.75},{"s":"Dr","x":1530,"y":0.68},{"s":"Dr","x":1538,"y":0.85},{"s":"Dr","x":1546,"y":0.75},{"s":"Dr","x":1554,"y":0.6},{"s":"Dr","x":1562,"y":0.55},{"s":"Dr","x":1570,"y":0.7},{"s":"Dr","x":1578,"y":0.85},{"s":"Dr","x":1586,"y":0.8},{"s":"Dr","x":1594,"y":0.65},{"s":"Dr","x":1602,"y":0.55},{"s":"Dr","x":1610,"y":0.5},{"s":"Dr","x":1618,"y":0.45},{"s":"Dr","x":1626,"y":0.55},{"s":"Dr","x":1634,"y":0.65},{"s":"Dr","x":1642,"y":0.55},{"s":"Dr","x":1650,"y":0.7},{"s":"Dr","x":1658,"y":0.85},{"s":"Dr","x":1666,"y":0.88},{"s":"Dr","x":1674,"y":0.8},{"s":"Dr","x":1682,"y":0.72},{"s":"Dr","x":1690,"y":0.65},{"s":"Dr","x":1698,"y":0.75},{"s":"Dr","x":1706,"y":0.6},{"s":"Dr","x":1714,"y":0.55},{"s":"Dr","x":1722,"y":0.7},{"s":"Dr","x":1730,"y":0.8},{"s":"Dr","x":1738,"y":0.88},{"s":"Dr","x":1746,"y":0.9},{"s":"Dr","x":1754,"y":0.93},{"s":"Dr","x":1762,"y":0.96},{"s":"Dr","x":1770,"y":0.94},{"s":"Dr","x":1778,"y":0.92},{"s":"Dr","x":1786,"y":0.9},{"s":"Dr","x":1794,"y":0.93},{"s":"Dr","x":1802,"y":0.92},{"s":"Dr","x":1812,"y":0.95}
],
"c": [
{"x":1143,"y":0.655},{"x":1148,"y":0.8},{"x":1152,"y":0.91},{"x":1157,"y":0.91},{"x":1162,"y":0.88},{"x":1167,"y":0.88},{"x":1172,"y":0.8},{"x":1176,"y":0.8},{"x":1181,"y":0.82},{"x":1186,"y":0.79},{"x":1190,"y":0.77},{"x":1194,"y":0.85},{"x":1197,"y":0.92},{"x":1201,"y":0.86},{"x":1205,"y":0.8},{"x":1209,"y":0.76},{"x":1212,"y":0.76},{"x":1216,"y":0.74},{"x":1219,"y":0.74},{"x":1223,"y":0.72},{"x":1228,"y":0.65},{"x":1233,"y":0.62},{"x":1236,"y":0.66},{"x":1241,"y":0.56},{"x":1245,"y":0.64},{"x":1249,"y":0.62},{"x":1255,"y":0.78},{"x":1259,"y":0.7},{"x":1263,"y":0.6},{"x":1269,"y":0.52},{"x":1276,"y":0.63},{"x":1280,"y":0.6},{"x":1285,"y":0.505},{"x":1290,"y":0.54},{"x":1295,"y":0.55},{"x":1302,"y":0.62},{"x":1307,"y":0.68},{"x":1312,"y":0.75},{"x":1318,"y":0.7},{"x":1323,"y":0.68},{"x":1330,"y":0.6},{"x":1336,"y":0.65},{"x":1340,"y":0.66},{"x":1349,"y":0.57},{"x":1355,"y":0.62},{"x":1359,"y":0.6},{"x":1364,"y":0.72},{"x":1371,"y":0.58},{"x":1377,"y":0.62},{"x":1385,"y":0.74},{"x":1393,"y":0.6},{"x":1398,"y":0.7},{"x":1404,"y":0.75},{"x":1411,"y":0.63},{"x":1416,"y":0.72},{"x":1421,"y":0.85},{"x":1426,"y":0.7},{"x":1433,"y":0.55},{"x":1438,"y":0.65},{"x":1442,"y":0.72},{"x":1449,"y":0.82},{"x":1456,"y":0.7},{"x":1461,"y":0.8},{"x":1465,"y":0.83},{"x":1468,"y":0.78},{"x":1475,"y":0.9},{"x":1480,"y":0.85},{"x":1485,"y":0.7},{"x":1488,"y":0.65},{"x":1492,"y":0.72},{"x":1495,"y":0.76},{"x":1501,"y":0.7},{"x":1505,"y":0.68},{"x":1511,"y":0.71},{"x":1518,"y":0.7},{"x":1526,"y":0.63},{"x":1531,"y":0.75},{"x":1537,"y":0.82},{"x":1545,"y":0.8},{"x":1549,"y":0.7},{"x":1556,"y":0.58},{"x":1563,"y":0.66},{"x":1568,"y":0.6},{"x":1573,"y":0.62},{"x":1577,"y":0.58},{"x":1580,"y":0.62},{"x":1584,"y":0.55},{"x":1589,"y":0.5},{"x":1594,"y":0.43},{"x":1598,"y":0.37},{"x":1603,"y":0.45},{"x":1610,"y":0.44},{"x":1615,"y":0.42},{"x":1620,"y":0.47},{"x":1625,"y":0.52},{"x":1630,"y":0.5},{"x":1634,"y":0.52},{"x":1641,"y":0.6},{"x":1649,"y":0.62},{"x":1659,"y":0.7},{"x":1665,"y":0.82},{"x":1672,"y":0.72},{"x":1678,"y":0.65},{"x":1683,"y":0.6},{"x":1689,"y":0.67},{"x":1695,"y":0.72},{"x":1700,"y":0.62},{"x":1706,"y":0.73},{"x":1713,"y":0.65},{"x":1722,"y":0.53},{"x":1727,"y":0.52},{"x":1732,"y":0.6},{"x":1736,"y":0.75},{"x":1742,"y":0.67},{"x":1748,"y":0.75},{"x":1753,"y":0.72},{"x":1758,"y":0.76},{"x":1763,"y":0.68},{"x":1768,"y":0.7},{"x":1774,"y":0.6},{"x":1779,"y":0.56},{"x":1786,"y":0.62},{"x":1791,"y":0.56},{"x":1796,"y":0.65},{"x":1805,"y":0.72},{"x":1810,"y":0.6},{"x":1817,"y":0.7},{"x":1822,"y":0.78},{"x":1827,"y":0.81},{"x":1833,"y":0.62},{"x":1839,"y":0.68},{"x":1843,"y":0.7},{"x":1850,"y":0.85},{"x":1855,"y":0.75},{"x":1860,"y":0.82},{"x":1867,"y":0.88},{"x":1872,"y":0.8},{"x":1877,"y":0.68},{"x":1883,"y":0.65},{"x":1887,"y":0.6},{"x":1891,"y":0.5},{"x":1896,"y":0.6},{"x":1900,"y":0.7},{"x":1904,"y":0.58},{"x":1907,"y":0.69},{"x":1910,"y":0.62},{"x":1912,"y":0.35}
],
"hatch": [{"h":1030},{"h":1041},{"h":1052},{"h":1063},{"h":1074},{"h":1085},{"h":1096},{"h":1107},{"h":1118},{"h":1129},{"h":1140},{"h":1151},{"h":1162},{"h":1173},{"h":1184},{"h":1195},{"h":1206},{"h":1217},{"h":1228},{"h":1239},{"h":1250},{"h":1261},{"h":1272},{"h":1283},{"h":1294},{"h":1305},{"h":1316},{"h":1327},{"h":1338},{"h":1349},{"h":1360},{"h":1371},{"h":1382},{"h":1393},{"h":1404},{"h":1415},{"h":1426},{"h":1437},{"h":1448},{"h":1459},{"h":1470},{"h":1481},{"h":1492},{"h":1503},{"h":1514},{"h":1525},{"h":1536},{"h":1547},{"h":1558},{"h":1569},{"h":1580},{"h":1591},{"h":1602},{"h":1613},{"h":1624},{"h":1635},{"h":1646},{"h":1657},{"h":1668},{"h":1679},{"h":1690},{"h":1701},{"h":1712},{"h":1723},{"h":1734},{"h":1745},{"h":1756},{"h":1767},{"h":1778},{"h":1789},{"h":1800},{"h":1811},{"h":1822},{"h":1833},{"h":1844},{"h":1855},{"h":1866},{"h":1877},{"h":1888},{"h":1899},{"h":1910}],
"band": [{"v":0.7},{"v":0.8}],
"d": [{"x":1180,"n":1},{"x":1296,"n":1},{"x":1300,"n":1},{"x":1305,"n":1},{"x":1309,"n":1},{"x":1335,"n":1},{"x":1415,"n":1},{"x":1431,"n":1},{"x":1439,"n":3},{"x":1521,"n":1},{"x":1525,"n":1},{"x":1541,"n":1},{"x":1551,"n":1},{"x":1568,"n":1},{"x":1578,"n":1},{"x":1702,"n":1},{"x":1707,"n":1},{"x":1715,"n":1}]
},
"concat": [
{
  "width": 281, "height": 279,
  "title": {"text": "A", "dx": -43},
  "layer": [
    {"data": {"name": "boxA"}, "mark": {"type": "rect", "fillOpacity": 0, "strokeWidth": 2.5},
     "encoding": {"x": {"field": "x0", "type": "quantitative"}, "x2": {"field": "x1"}, "y": {"field": "y0", "type": "quantitative"}, "y2": {"field": "y1"},
       "stroke": {"field": "b", "type": "nominal", "scale": {"domain": ["g","o","n"], "range": ["#7f7f7f","#dc7630","#6ed474"]}, "legend": null}}},
    {"mark": {"type": "rule", "strokeDash": [5,4], "color": "#555", "strokeWidth": 1}, "encoding": {"y": {"datum": 0.5, "type": "quantitative"}}},
    {"data": {"name": "a"}, "mark": {"type": "line", "strokeWidth": 1.3, "clip": true},
     "encoding": {
       "x": {"field": "x", "type": "quantitative", "scale": {"domain": [1137, 1917], "nice": false, "zero": false}, "title": "Amino acid",
             "axis": {"values": [1200,1300,1400,1500,1600,1700,1800,1900], "tickCount": 100, "labelOverlap": false, "labelExpr": "datum.value % 200 == 0 ? datum.label : ''", "format": "d"}},
       "y": {"field": "y", "type": "quantitative", "scale": {"domain": [0, 1.2], "nice": false}, "title": "Disorder probability",
             "axis": {"values": [0,0.1,0.2,0.3,0.4,0.5,0.6,0.7,0.8,0.9,1.0,1.1,1.2], "tickCount": 100, "labelOverlap": false, "labelExpr": "round(datum.value*10) % 2 == 0 ? format(datum.value, '.1f') : ''"}},
       "color": {"field": "s", "type": "nominal", "sort": null,
                 "scale": {"domain": ["VLXT","VL3-BA","VLS2b","Ronn","IUPred"], "range": ["#000000","#5aa6f2","#ece22a","#3a66c2","#b25e9c"]},
                 "legend": {"orient": "none", "legendX": 40, "legendY": 206, "labelFontSize": 12, "rowPadding": 1, "symbolType": "M-1.83,0L1.83,0", "symbolSize": 144, "labelOffset": 9}}
     }}
  ]
},
{
  "width": 278, "height": 278,
  "title": {"text": "B", "dx": -49},
  "layer": [
    {"data": {"name": "boxB"}, "mark": {"type": "rect", "fillOpacity": 0, "strokeWidth": 2.5},
     "encoding": {"x": {"field": "x0", "type": "quantitative"}, "x2": {"field": "x1"}, "y": {"field": "y0", "type": "quantitative"}, "y2": {"field": "y1"},
       "stroke": {"field": "b", "type": "nominal", "scale": {"domain": ["g","o","n"], "range": ["#7f7f7f","#dc7630","#6ed474"]}, "legend": null}}},
    {"mark": {"type": "rule", "strokeDash": [5,4], "color": "#555", "strokeWidth": 1}, "encoding": {"y": {"datum": 0.5, "type": "quantitative"}}},
    {"data": {"name": "b"}, "mark": {"type": "line", "strokeWidth": 1.2, "clip": true},
     "encoding": {
       "x": {"field": "x", "type": "quantitative", "scale": {"domain": [1145, 1858], "nice": false, "zero": false}, "title": "Amino acid",
             "axis": {"values": [1200,1300,1400,1500,1600,1700,1800], "tickCount": 100, "labelOverlap": false, "labelExpr": "datum.value % 200 == 0 ? datum.label : ''", "format": "d"}},
       "y": {"field": "y", "type": "quantitative", "scale": {"domain": [0, 1.2], "nice": false}, "title": "Disorder probability (IUPred)",
             "axis": {"values": [0,0.1,0.2,0.3,0.4,0.5,0.6,0.7,0.8,0.9,1.0,1.1,1.2], "tickCount": 100, "labelOverlap": false, "labelExpr": "round(datum.value*10) % 2 == 0 ? format(datum.value, '.1f') : ''"}},
       "color": {"field": "s", "type": "nominal", "sort": null,
                 "scale": {"domain": ["Hs","Mm","Rn","Gg","Xt","Dr"], "range": ["#000000","#e02424","#2424f0","#e01ee0","#3f7d1c","#1e1e7e"]},
                 "legend": {"orient": "none", "legendX": 77, "legendY": 181, "labelFontSize": 10, "rowPadding": 1.5, "symbolType": "M-2.2,0L2.2,0", "symbolSize": 100, "labelOffset": 8}}
     }}
  ]
},
{
  "width": 274, "height": 275,
  "title": {"text": "C", "dx": -41},
  "layer": [
    {"data": {"name": "boxC"}, "mark": {"type": "rect", "fillOpacity": 0, "strokeWidth": 2.5},
     "encoding": {"x": {"field": "x0", "type": "quantitative"}, "x2": {"field": "x1"}, "y": {"field": "y0", "type": "quantitative"}, "y2": {"field": "y1"},
       "stroke": {"field": "b", "type": "nominal", "scale": {"domain": ["g","o","n"], "range": ["#7f7f7f","#dc7630","#6ed474"]}, "legend": null}}},
    {"data": {"name": "hatch"}, "mark": {"type": "rule", "clip": true, "x2Offset": 39, "color": "#444", "strokeWidth": 0.7},
     "encoding": {"x": {"field": "h", "type": "quantitative"}, "x2": {"field": "h"}, "y": {"datum": 0.7, "type": "quantitative"}, "y2": {"datum": 0.8}}},
    {"data": {"name": "band"}, "mark": {"type": "rule", "strokeDash": [5,3], "color": "#222", "strokeWidth": 1},
     "encoding": {"y": {"field": "v", "type": "quantitative"}}},
    {"data": {"name": "c"}, "mark": {"type": "line", "strokeWidth": 1.3, "color": "#000", "clip": true},
     "encoding": {
       "x": {"field": "x", "type": "quantitative", "scale": {"domain": [1140, 1912], "nice": false, "zero": false}, "title": "Amino acid",
             "axis": {"values": [1200,1300,1400,1500,1600,1700,1800,1900], "tickCount": 100, "labelOverlap": false, "labelExpr": "datum.value % 200 == 0 ? datum.label : ''", "format": "d"}},
       "y": {"field": "y", "type": "quantitative", "scale": {"domain": [0.3, 1.0], "nice": false, "zero": false}, "title": "S² prediction",
             "axis": {"values": [0.3,0.35,0.4,0.45,0.5,0.55,0.6,0.65,0.7,0.75,0.8,0.85,0.9,0.95,1.0], "tickCount": 100, "labelOverlap": false, "labelExpr": "round(datum.value*100) % 10 == 0 ? format(datum.value, '.1f') : ''"}}
     }}
  ]
},
{
  "width": 275, "height": 275,
  "title": {"text": "D", "dx": -50},
  "layer": [
    {"data": {"name": "boxD"}, "mark": {"type": "rect", "fillOpacity": 0, "strokeWidth": 2.5},
     "encoding": {"x": {"field": "x0", "type": "quantitative"}, "x2": {"field": "x1"}, "y": {"field": "y0", "type": "quantitative"}, "y2": {"field": "y1"},
       "stroke": {"field": "b", "type": "nominal", "scale": {"domain": ["g","o","n"], "range": ["#7f7f7f","#dc7630","#6ed474"]}, "legend": null}}},
    {"data": {"name": "d"}, "mark": {"type": "rule", "color": "#555", "strokeWidth": 1},
     "encoding": {"x": {"field": "x", "type": "quantitative"}, "y": {"field": "n", "type": "quantitative"}, "y2": {"datum": 0}}},
    {"data": {"name": "d"}, "mark": {"type": "circle", "color": "#5a5a5a", "size": 28, "opacity": 1},
     "encoding": {
       "x": {"field": "x", "type": "quantitative", "scale": {"domain": [1142, 1911], "nice": false, "zero": false}, "title": "Amino acid",
             "axis": {"values": [1200,1300,1400,1500,1600,1700,1800,1900], "tickCount": 100, "labelOverlap": false, "labelExpr": "datum.value % 200 == 0 ? datum.label : ''", "format": "d"}},
       "y": {"field": "n", "type": "quantitative", "scale": {"domain": [0, 3.5], "nice": false}, "title": "Number of references",
             "axis": {"values": [0,0.25,0.5,0.75,1,1.25,1.5,1.75,2,2.25,2.5,2.75,3,3.25,3.5], "tickCount": 100, "labelOverlap": false, "labelExpr": "round(datum.value*4) % 2 == 0 ? format(datum.value, '.1f') : ''"}}
     }}
  ]
}
]
}
